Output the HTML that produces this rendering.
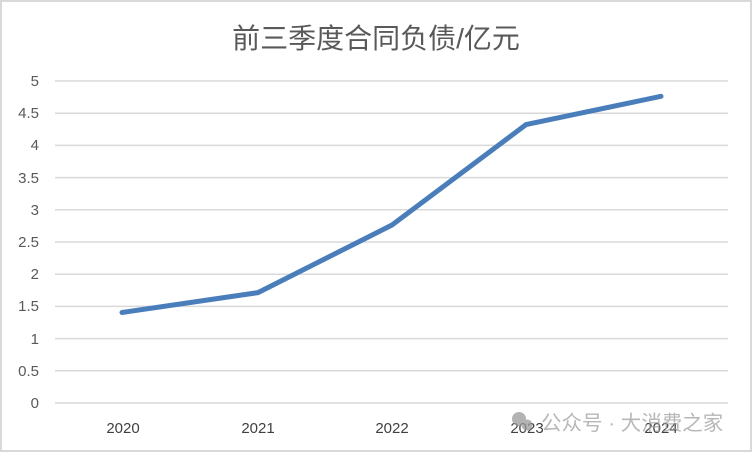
<!DOCTYPE html>
<html><head><meta charset="utf-8"><style>
html,body{margin:0;padding:0;background:#fff}
svg{display:block}
text{font-family:"Liberation Sans","Noto Sans CJK SC",sans-serif}
</style></head><body>
<svg width="752" height="452" viewBox="0 0 752 452">
<rect x="1" y="1" width="750" height="450" fill="#fff" stroke="#d9d9d9" stroke-width="2"/>
<text x="376" y="48" text-anchor="middle" font-size="28" fill="#595959">前三季度合同负债/亿元</text>
<g stroke="#d9d9d9" stroke-width="1.5">
<line x1="55" x2="728" y1="81" y2="81"/><line x1="55" x2="728" y1="113.2" y2="113.2"/>
<line x1="55" x2="728" y1="145.4" y2="145.4"/><line x1="55" x2="728" y1="177.6" y2="177.6"/>
<line x1="55" x2="728" y1="209.8" y2="209.8"/><line x1="55" x2="728" y1="242" y2="242"/>
<line x1="55" x2="728" y1="274.2" y2="274.2"/><line x1="55" x2="728" y1="306.4" y2="306.4"/>
<line x1="55" x2="728" y1="338.6" y2="338.6"/><line x1="55" x2="728" y1="370.8" y2="370.8"/>
<line x1="55" x2="728" y1="403" y2="403"/>
</g>
<g font-size="15" fill="#595959" text-anchor="end">
<text x="39" y="86">5</text><text x="39" y="118">4.5</text><text x="39" y="150">4</text>
<text x="39" y="183">3.5</text><text x="39" y="215">3</text><text x="39" y="247">2.5</text>
<text x="39" y="279">2</text><text x="39" y="311">1.5</text><text x="39" y="344">1</text>
<text x="39" y="376">0.5</text><text x="39" y="408">0</text>
</g>
<g font-size="15" fill="#404040" text-anchor="middle">
<text x="123" y="433">2020</text><text x="258" y="433">2021</text><text x="392" y="433">2022</text>
<text x="527" y="433">2023</text><text x="661" y="433">2024</text>
</g>
<polyline points="122,312.5 258,292.6 392,225 526,124.6 661,96.3" fill="none" stroke="#4a7ebb" stroke-width="5" stroke-linejoin="round" stroke-linecap="round"/>
<g opacity="0.75">
<circle cx="519" cy="419" r="7" fill="#9a9a9a"/><circle cx="527" cy="425" r="5.5" fill="#9a9a9a"/>
<text x="541" y="430" font-size="20.5" fill="#a0a0a0">公众号 · 大消费之家</text>
</g>
</svg>
</body></html>
